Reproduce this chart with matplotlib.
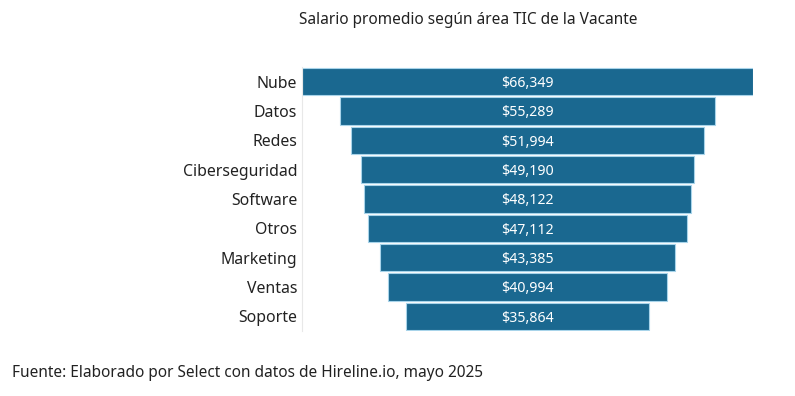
import matplotlib.pyplot as plt

plt.rcParams['font.family'] = ['Noto Sans', 'DejaVu Sans']

areas = ['Nube', 'Datos', 'Redes', 'Ciberseguridad', 'Software', 'Otros',
         'Marketing', 'Ventas', 'Soporte']
salarios = [66349, 55289, 51994, 49190, 48122, 47112, 43385, 40994, 35864]

BAR_COLOR = '#1a6890'

fig = plt.figure(figsize=(7.95, 3.96), dpi=100)
ax = fig.add_axes([302 / 795, 1 - 331 / 396, (753 - 302) / 795, (331 - 67) / 396])

pos = list(range(len(areas)))
lefts = [-s / 2 for s in salarios]
ax.barh(pos, salarios, left=lefts, height=0.94, color=BAR_COLOR,
        edgecolor='#a8d4ea', linewidth=0.8)

# etiquetas de valor centradas
for p, s in zip(pos, salarios):
    ax.text(0, p, f'${s:,}', ha='center', va='center_baseline', color='white', fontsize=10.2)

half = max(salarios) / 2
ax.set_xlim(-half * 1.002, half * 1.002)
ax.set_ylim(len(areas) - 0.5, -0.5)
ax.set_yticks(pos)
ax.set_yticklabels(areas, fontsize=11.4, color='#222222')
ax.tick_params(axis='y', length=0, pad=3.5)
ax.set_xticks([])

for side in ['top', 'right', 'bottom']:
    ax.spines[side].set_visible(False)
ax.spines['left'].set_color('#e8e8e8')
ax.spines['left'].set_linewidth(0.8)

fig.text(468 / 795, 1 - 20 / 396, 'Salario promedio según área TIC de la Vacante',
         ha='center', va='center', fontsize=11.1, color='#222222')
fig.text(12 / 795, 1 - 373 / 396, 'Fuente: Elaborado por Select con datos de Hireline.io, mayo 2025',
         ha='left', va='center', fontsize=11.1, color='#222222')

fig.savefig('out.png', dpi=100)
